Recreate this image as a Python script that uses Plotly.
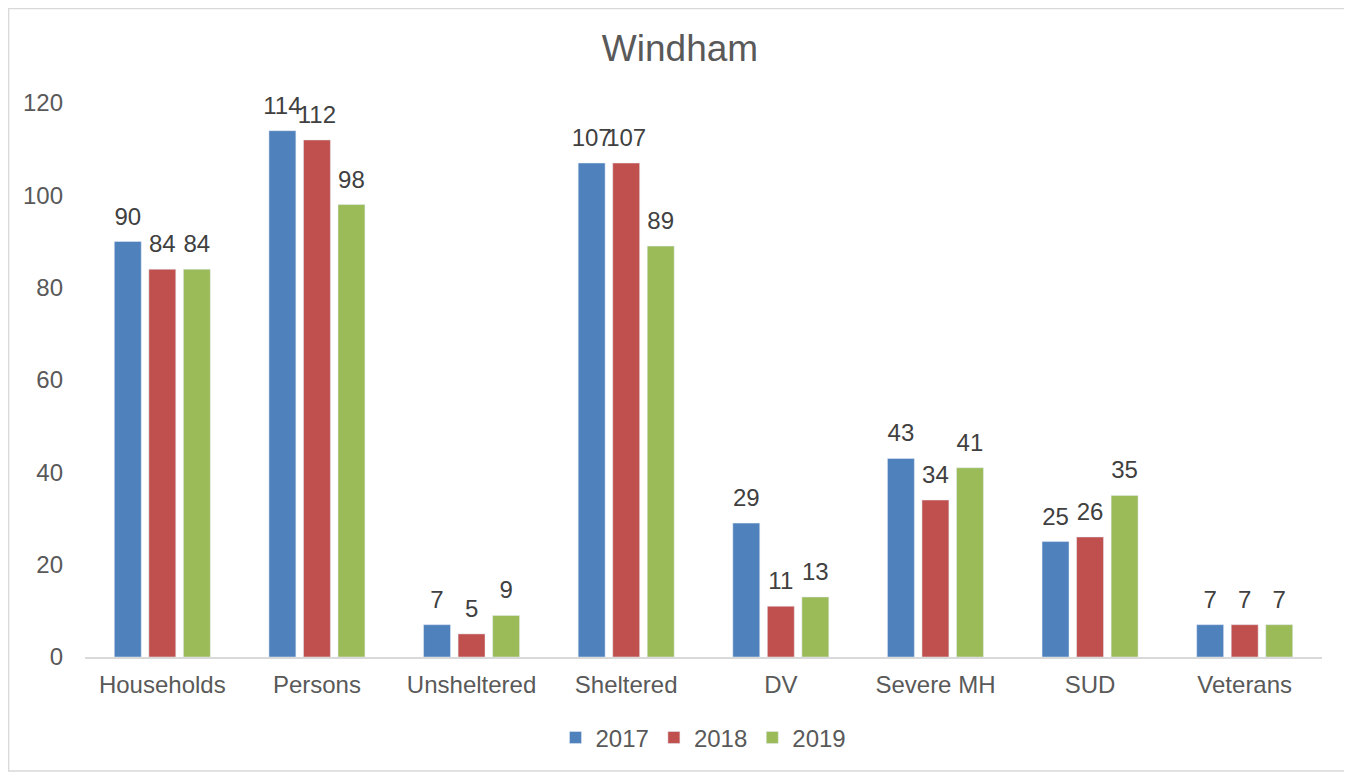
import plotly.graph_objects as go

# Datos
categorias = ['Households', 'Persons', 'Unsheltered', 'Sheltered', 'DV', 'Severe MH', 'SUD', 'Veterans']
valores_2017 = [90, 114, 7, 107, 29, 43, 25, 7]
valores_2018 = [84, 112, 5, 107, 11, 34, 26, 7]
valores_2019 = [84, 98, 9, 89, 13, 41, 35, 7]
y_ticks = [0, 20, 40, 60, 80, 100, 120]

series = [
    ('2017', valores_2017, '#4F81BD'),
    ('2018', valores_2018, '#C0504D'),
    ('2019', valores_2019, '#9BBB59'),
]

fig = go.Figure()

for nombre, valores, color in series:
    fig.add_trace(go.Bar(
        x=categorias,
        y=valores,
        name=nombre,
        marker_color=color,
        offsetgroup=nombre,
    ))

# Etiquetas de datos: puntos invisibles agrupados igual que las barras,
# así queda un hueco sobre cada barra como en Excel
for nombre, valores, color in series:
    fig.add_trace(go.Scatter(
        x=categorias,
        y=valores,
        mode='markers+text',
        marker=dict(size=16, opacity=0),
        text=valores,
        textposition='top center',
        textfont=dict(size=24, color='#404040'),
        offsetgroup=nombre,
        showlegend=False,
        hoverinfo='skip',
        cliponaxis=False,
    ))

# La página tiene 8px de margen en el body, así que el lienzo es un poco menor
fig.update_layout(
    title=dict(text='Windham', x=0.5, xanchor='center', y=0.9477, yanchor='middle',
               font=dict(size=37, color='#595959')),
    font=dict(family='Liberation Sans, Arial, sans-serif', color='#595959', size=24),
    barmode='group',
    bargap=0.33,
    bargroupgap=0.22,
    scattermode='group',
    scattergap=0.33,
    width=1344,
    height=765,
    margin=dict(l=77, r=30, t=95, b=116),
    plot_bgcolor='white',
    paper_bgcolor='white',
    showlegend=True,
    legend=dict(orientation='h', x=0.5, xanchor='center', y=-0.146, yanchor='middle',
                font=dict(size=24, color='#595959'), traceorder='normal',
                itemwidth=30),
    xaxis=dict(showline=True, linecolor='#D9D9D9', linewidth=1.5, ticks='',
               tickfont=dict(size=24, color='#595959'), ticklabelstandoff=5),
    yaxis=dict(range=[0, 120], tickvals=y_ticks, showgrid=False, zeroline=False,
               showline=False, tickfont=dict(size=24, color='#595959'),
               ticklabelstandoff=21),
)

# Marco gris claro alrededor del gráfico
fig.add_shape(type='rect', xref='paper', yref='paper',
              x0=-0.0618, x1=1.0202, y0=-0.2058, y1=1.1706,
              line=dict(color='#D9D9D9', width=1.5), layer='below')

fig.write_html("out.html")
